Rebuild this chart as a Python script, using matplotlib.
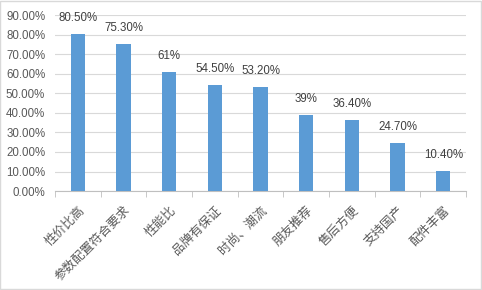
import matplotlib
matplotlib.use("Agg")
import matplotlib.pyplot as plt
from matplotlib.ticker import FuncFormatter, FixedLocator
from matplotlib.patches import Rectangle

plt.rcParams['font.family'] = ['Noto Sans CJK SC', 'DejaVu Sans']

categories = ['性价比高', '参数配置符合要求', '性能比', '品牌有保证', '时尚、潮流',
              '朋友推荐', '售后方便', '支持国产', '配件丰富']
values = [80.5, 75.3, 61.0, 54.5, 53.2, 39.0, 36.4, 24.7, 10.4]
value_labels = ['80.50%', '75.30%', '61%', '54.50%', '53.20%', '39%', '36.40%', '24.70%', '10.40%']
yticks = [0, 10, 20, 30, 40, 50, 60, 70, 80, 90]

num_font = ['Liberation Sans', 'DejaVu Sans']

fig = plt.figure(figsize=(4.82, 2.90), dpi=100)
fig.patches.append(Rectangle((0.001, 0.002), 0.997, 0.995, transform=fig.transFigure,
                             fill=False, edgecolor='#D9D9D9', linewidth=1.0))
ax = fig.add_axes([0.114, 0.341, 0.853, 0.607])

x = list(range(len(categories)))
ax.bar(x, values, width=0.31, color='#5B9BD5', zorder=3)
for xi, v, lab in zip(x, values, value_labels):
    ax.annotate(lab, (xi, v), xytext=(0, 7), textcoords='offset points',
                ha='center', va='bottom', fontsize=8.3, color='#404040', family=num_font)

ax.set_xlim(-0.5, len(categories) - 0.5)
ax.set_ylim(0, 90)
ax.set_yticks(yticks)
ax.yaxis.set_major_formatter(FuncFormatter(lambda v, p: f'{v:.2f}%'))
ax.grid(axis='y', color='#D9D9D9', linewidth=0.8, zorder=0)

ax.set_xticks(x)
ax.set_xticklabels(categories, rotation=45, ha='right', rotation_mode='anchor',
                   fontsize=9, color='#595959')
ax.xaxis.set_minor_locator(FixedLocator([i - 0.5 for i in range(len(categories) + 1)]))
ax.tick_params(axis='x', which='major', length=0, pad=9)
ax.tick_params(axis='x', which='minor', length=4, color='#BFBFBF', direction='out')
ax.tick_params(axis='y', length=0, labelsize=8.3, labelcolor='#595959', pad=7)
for t in ax.get_yticklabels():
    t.set_family(num_font)

for s in ['top', 'right', 'left']:
    ax.spines[s].set_visible(False)
ax.spines['bottom'].set_color('#BFBFBF')
ax.spines['bottom'].set_linewidth(0.8)

fig.savefig('out.png', dpi=100)
